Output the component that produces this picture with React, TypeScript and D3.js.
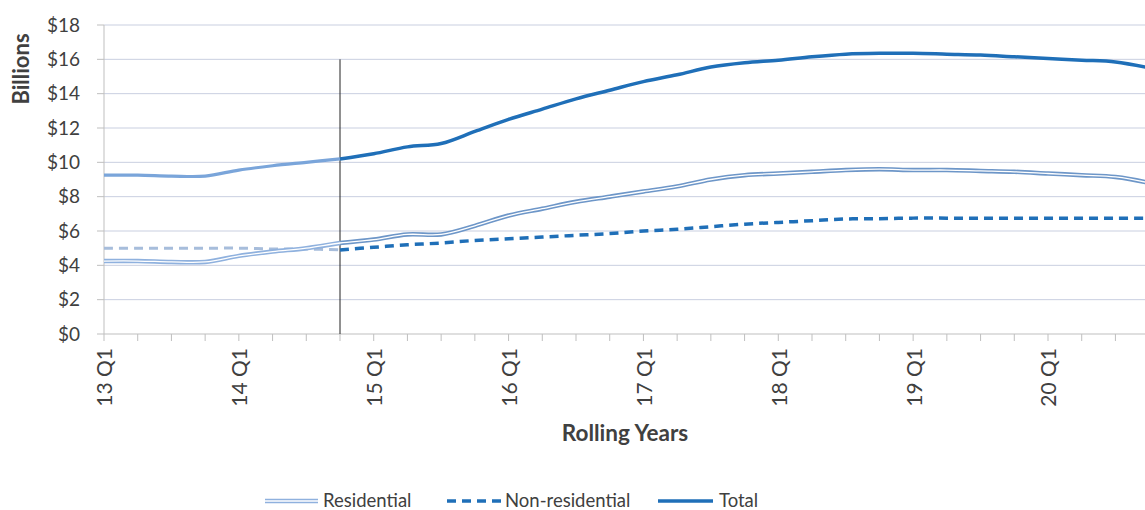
import React from "react";
import * as d3 from "d3";

const quarters = [
  "13 Q1","13 Q2","13 Q3","13 Q4","14 Q1","14 Q2","14 Q3","14 Q4",
  "15 Q1","15 Q2","15 Q3","15 Q4","16 Q1","16 Q2","16 Q3","16 Q4",
  "17 Q1","17 Q2","17 Q3","17 Q4","18 Q1","18 Q2","18 Q3","18 Q4",
  "19 Q1","19 Q2","19 Q3","19 Q4","20 Q1","20 Q2","20 Q3","20 Q4",
];
const residential = [
  4.25, 4.25, 4.2, 4.2, 4.55, 4.8, 5.0, 5.3,
  5.5, 5.8, 5.8, 6.3, 6.9, 7.3, 7.7, 8.0,
  8.3, 8.6, 9.0, 9.25, 9.35, 9.45, 9.55, 9.6,
  9.55, 9.55, 9.5, 9.45, 9.35, 9.25, 9.15, 8.8,
];
const nonResidential = [
  5.0, 5.0, 5.0, 5.0, 5.0, 4.95, 4.95, 4.9,
  5.05, 5.2, 5.3, 5.45, 5.55, 5.65, 5.75, 5.85,
  6.0, 6.1, 6.25, 6.4, 6.5, 6.6, 6.7, 6.72,
  6.75, 6.75, 6.75, 6.75, 6.75, 6.75, 6.75, 6.75,
];
const total = [
  9.25, 9.25, 9.2, 9.2, 9.55, 9.8, 10.0, 10.2,
  10.5, 10.9, 11.1, 11.8, 12.5, 13.1, 13.7, 14.2,
  14.7, 15.1, 15.55, 15.8, 15.95, 16.15, 16.3, 16.35,
  16.35, 16.3, 16.25, 16.15, 16.05, 15.95, 15.85, 15.5,
];
const yTicks = [0, 2, 4, 6, 8, 10, 12, 14, 16, 18];
const forecastIndex = 7;
const markerValue = 16;
const legendItems = ["Residential", "Non-residential", "Total"];

const W = 1145;
const H = 510;
const FONT = "Lato, 'Open Sans', sans-serif";

export default function App() {
  const x = d3.scaleLinear().domain([0, 28]).range([104, 1048]);
  const y = d3.scaleLinear().domain([0, 18]).range([334, 25]);
  const idx = quarters.map((_, i) => i);
  const line = (vals: number[], from: number, to: number) =>
    d3
      .line<number>()
      .x((i) => x(i))
      .y((i) => y(vals[i]))
      .curve(d3.curveCatmullRom.alpha(0.5))(idx.slice(from, to + 1)) || "";
  const last = quarters.length - 1;
  const axisColor = "#BFBFBF";
  const gridColor = "#C9CFE0";
  const textColor = "#404040";

  return (
    <svg
      width={W}
      height={H}
      style={{ position: "absolute", left: 0, top: 0, background: "#fff" }}
      fontFamily={FONT}
    >
      <defs>
        <clipPath id="plot">
          <rect x={104} y={0} width={W - 104} height={340} />
        </clipPath>
      </defs>
      {yTicks.map((t) => (
        <line key={"g" + t} x1={104} x2={W} y1={y(t)} y2={y(t)} stroke={t === 0 ? axisColor : gridColor} strokeWidth={1} />
      ))}
      <line x1={104} x2={104} y1={y(18)} y2={y(0)} stroke={axisColor} />
      {yTicks.map((t) => (
        <g key={"yt" + t}>
          <line x1={97} x2={104} y1={y(t)} y2={y(t)} stroke={axisColor} />
          <text x={80} y={y(t)} dy="0.35em" textAnchor="end" fontSize={19} fill={textColor}>
            {"$" + t}
          </text>
        </g>
      ))}
      {quarters.map((q, i) => (
        <g key={"xt" + q}>
          <line x1={x(i)} x2={x(i)} y1={y(0)} y2={y(0) + 7} stroke={axisColor} />
          {q.endsWith("Q1") && (
            <text
              transform={`translate(${x(i) + 1},${y(0) + 14}) rotate(-90)`}
              dy="0.35em"
              textAnchor="end"
              fontSize={21}
              fill={textColor}
            >
              {q}
            </text>
          )}
        </g>
      ))}
      <line
        x1={x(forecastIndex)}
        x2={x(forecastIndex)}
        y1={y(markerValue)}
        y2={y(0)}
        stroke="#222"
        strokeWidth={1}
      />
      <g clipPath="url(#plot)" fill="none">
        <path d={line(nonResidential, 0, forecastIndex)} stroke="#A7BDDB" strokeWidth={3} strokeDasharray="9,6" />
        <path d={line(nonResidential, forecastIndex, last)} stroke="#1F6FB8" strokeWidth={3.5} strokeDasharray="9,6" />
        <path d={line(residential, 0, forecastIndex)} stroke="#8FB1DE" strokeWidth={4.5} />
        <path d={line(residential, forecastIndex, last)} stroke="#6D96C8" strokeWidth={4.5} />
        <path d={line(residential, 0, last)} stroke="#fff" strokeWidth={1.3} />
        <path d={line(total, 0, forecastIndex)} stroke="#7AA5DA" strokeWidth={3.2} />
        <path d={line(total, forecastIndex, last)} stroke="#1F6FB8" strokeWidth={3.5} />
      </g>
      <text x={625} y={433} dy="0.35em" textAnchor="middle" fontSize={22.5} fontWeight="bold" fill={textColor}>
        Rolling Years
      </text>
      <text transform="translate(21,69) rotate(-90)" dy="0.35em" textAnchor="middle" fontSize={22} fontWeight="bold" fill={textColor}>
        Billions
      </text>
      <g fontSize={18.5} fill={textColor}>
        <line x1={265} x2={318} y1={501} y2={501} stroke="#8FB1DE" strokeWidth={4.5} />
        <line x1={265} x2={318} y1={501} y2={501} stroke="#fff" strokeWidth={1.3} />
        <text x={323} y={501} dy="0.35em">{legendItems[0]}</text>
        <line x1={447} x2={503} y1={501} y2={501} stroke="#1F6FB8" strokeWidth={3.5} strokeDasharray="9,6" />
        <text x={505} y={501} dy="0.35em">{legendItems[1]}</text>
        <line x1={658} x2={713} y1={501} y2={501} stroke="#1F6FB8" strokeWidth={3.5} />
        <text x={719} y={501} dy="0.35em">{legendItems[2]}</text>
      </g>
    </svg>
  );
}
